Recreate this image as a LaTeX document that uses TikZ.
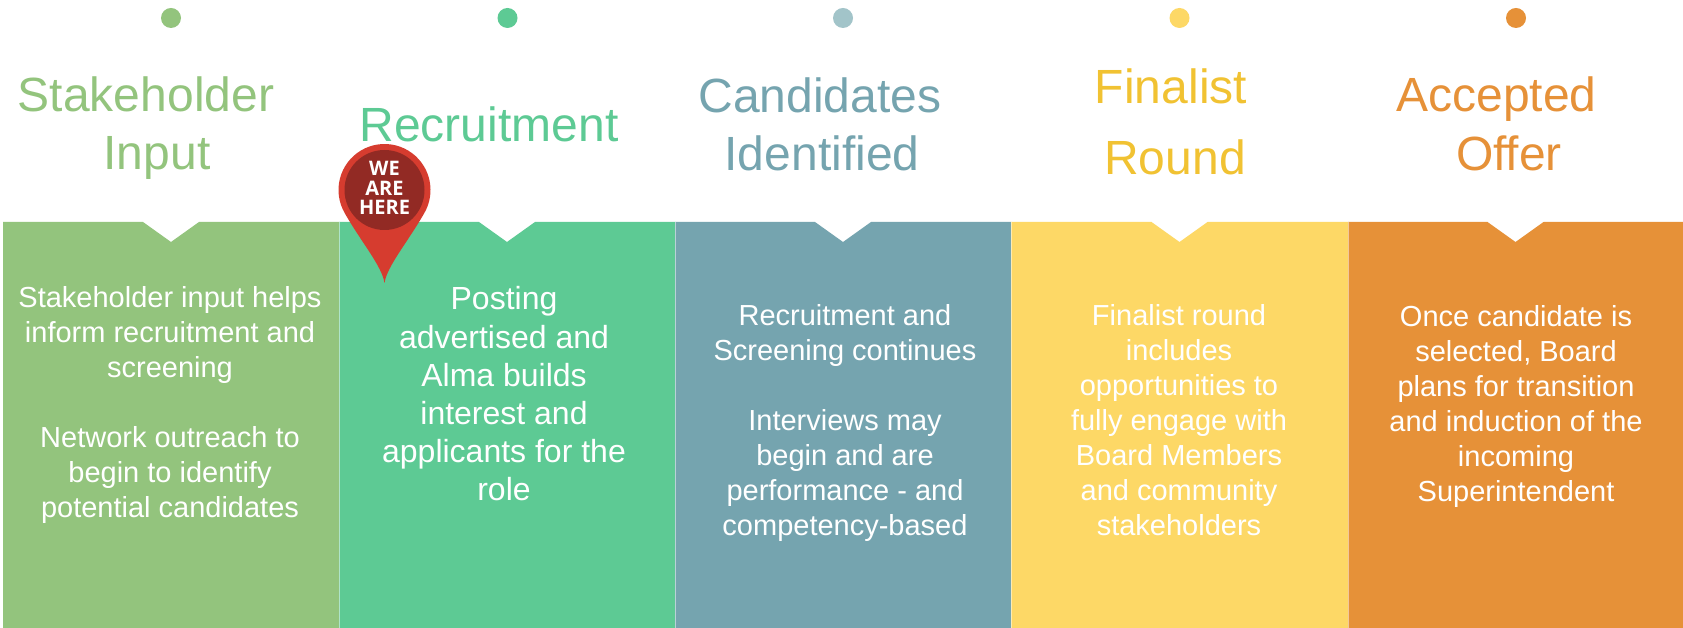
\documentclass[tikz,border=0pt]{standalone}
\usepackage{fontspec}
\setmainfont{Liberation Sans}
\newfontfamily\pinfont{Open Sans}
\usetikzlibrary{calc}
\definecolor{colA}{HTML}{93C47D}
\definecolor{colB}{HTML}{5DCA94}
\definecolor{colC}{HTML}{75A4AF}
\definecolor{colD}{HTML}{FDD866}
\definecolor{colE}{HTML}{E69138}
\definecolor{dotC}{HTML}{A2C4C9}
\definecolor{titD}{HTML}{F1C232}
\definecolor{pinred}{HTML}{D63C2F}
\definecolor{pindark}{HTML}{922A24}
\tikzset{
  title/.style={anchor=base, inner sep=0pt, font=\fontsize{48}{58}\selectfont},
  body/.style={anchor=base, inner sep=0pt, text=white, font=\fontsize{29}{35}\selectfont},
  bodyL/.style={body, font=\fontsize{32}{38}\selectfont},
  dot/.style={circle, inner sep=0pt, minimum size=20pt},
  pintext/.style={anchor=base, inner sep=0pt, text=white, font=\pinfont\bfseries\fontsize{20}{20}\selectfont},
  sep/.style={white, opacity=0.5, line width=1pt}
}
\begin{document}
\begin{tikzpicture}[x=1pt,y=1pt]
\useasboundingbox (0,0) rectangle (1683,628);
\fill[white] (0,0) rectangle (1683,628);
% columns with notches
\foreach \xa/\xb/\col in {3/339/colA, 339/675/colB, 675/1011/colC, 1011/1348/colD, 1348/1683/colE}{
  \pgfmathsetmacro\cx{(\xa+\xb)/2}
  \fill[\col] (\xa,0) -- (\xa,406) -- (\cx-28,406) -- (\cx,386) -- (\cx+28,406) -- (\xb,406) -- (\xb,0) -- cycle;
}
\foreach \xs in {339,675,1011,1348}{
  \draw[sep] (\xs,0) -- (\xs,406);
}
% dots
\node[dot, fill=colA] (d1) at (171,610) {};
\node[dot, fill=colB] (d2) at (507.5,610) {};
\node[dot, fill=dotC] (d3) at (843,610) {};
\node[dot, fill=colD] (d4) at (1179.5,610) {};
\node[dot, fill=colE] (d5) at (1516,610) {};
% titles
\node[title, text=colA] (t1a) at (146,516) {Stakeholder};
\node[title, text=colA] (t1b) at (157,458) {Input};
\node[title, text=colB] (t2a) at (489,486) {Recruitment};
\node[title, text=colC] (t3a) at (820,515) {Candidates};
\node[title, text=colC] (t3b) at (822,457) {Identified};
\node[title, text=titD] (t4a) at (1171,524) {Finalist};
\node[title, text=titD] (t4b) at (1175,453) {Round};
\node[title, text=colE] (t5a) at (1496.5,516) {Accepted};
\node[title, text=colE] (t5b) at (1509,457) {Offer};
% body texts
\foreach \t/\k in {Stakeholder input helps/0, inform recruitment and/1, screening/2, Network outreach to/4, begin to identify/5, potential candidates/6}
  \node[body] (b1-\k) at (170,{320.3-35*\k}) {\t};
\foreach \t/\k in {Posting/0, advertised and/1, Alma builds/2, interest and/3, applicants for the/4, role/5}
  \node[bodyL] (b2-\k) at (504,{318-38.2*\k}) {\t};
\foreach \t/\k in {Recruitment and/0, Screening continues/1, Interviews may/3, begin and are/4, performance - and/5, competency-based/6}
  \node[body] (b3-\k) at (845,{302-35*\k}) {\t};
\foreach \t/\k in {Finalist round/0, includes/1, opportunities to/2, fully engage with/3, Board Members/4, and community/5, stakeholders/6}
  \node[body] (b4-\k) at (1179,{302-35*\k}) {\t};
\foreach \t/\k in {Once candidate is/0, {selected, Board}/1, plans for transition/2, and induction of the/3, incoming/4, Superintendent/5}
  \node[body] (b5-\k) at (1516,{301.3-35*\k}) {\t};
% location pin
\coordinate (pc) at (384.5,438);
\fill[pinred] ($(pc)+(210.35:46)$) arc[start angle=210.35, end angle=-29.65, radius=46]
  .. controls (408.5,386.9) and (387,362) .. (384.5,345)
  .. controls (382,362) and (360.5,386.9) .. cycle;
\fill[pindark] (pc) circle (40);
\node[pintext] (p1) at (384.5,452) {WE};
\node[pintext] (p2) at (384.5,432.5) {ARE};
\node[pintext] (p3) at (384.5,413) {HERE};
\end{tikzpicture}
\end{document}
